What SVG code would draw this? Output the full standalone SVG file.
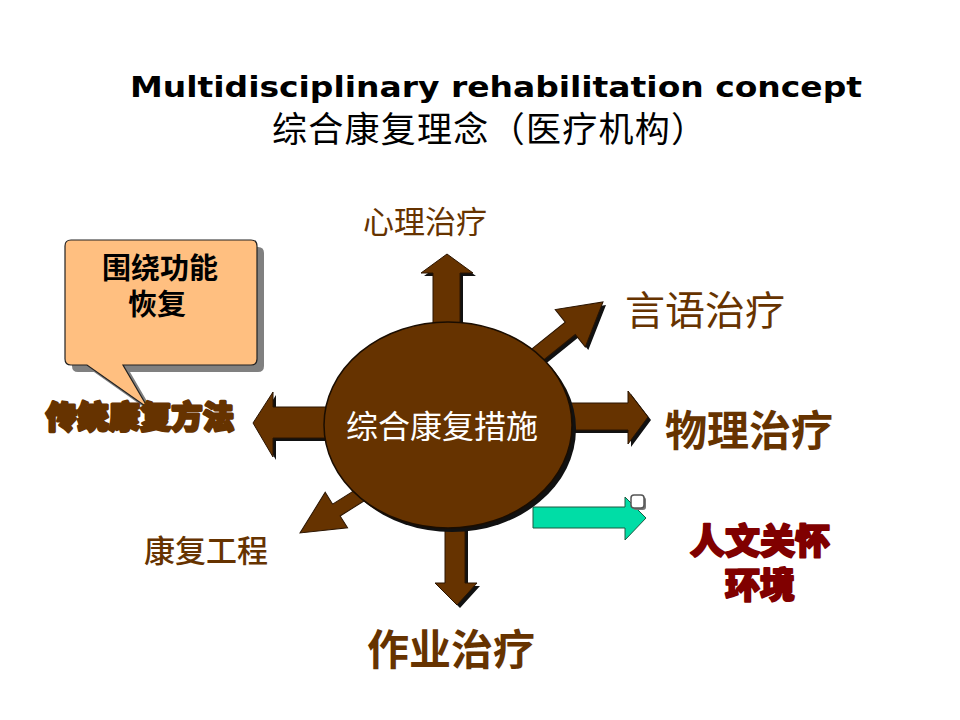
<svg xmlns="http://www.w3.org/2000/svg" width="960" height="720" viewBox="0 0 960 720">
<defs>
<style>
.cjk{font-family:"Noto Sans CJK SC","Noto Sans",sans-serif;}
.arr{fill:#663300;stroke:#2a1400;stroke-width:1;}
.shd{fill:#111;}
.lbl{fill:#663300;}
</style>
</defs>
<rect width="960" height="720" fill="#ffffff"/>

<g id="title">
<text x="496" y="97" text-anchor="middle" font-family="DejaVu Sans, Verdana, sans-serif" font-weight="bold" font-size="28" textLength="732" lengthAdjust="spacingAndGlyphs" fill="#000">Multidisciplinary rehabilitation concept</text>
<text x="272" y="142" class="cjk" font-size="35" textLength="434" lengthAdjust="spacing" fill="#000">综合康复理念（医疗机构）</text>
</g>

<g id="connectors">
<g id="arrow-up">
<polygon class="shd" transform="translate(3,3)" points="433,330 433,273 421,273 447,254 473,273 460,273 460,330"/>
<polygon class="arr" points="433,330 433,273 421,273 447,254 473,273 460,273 460,330"/>
</g>
<g id="arrow-down">
<polygon class="shd" transform="translate(3,3)" points="445,520 445,583 435,583 457,605 477,583 465,583 465,520"/>
<polygon class="arr" points="445,520 445,583 435,583 457,605 477,583 465,583 465,520"/>
</g>
<g id="arrow-right">
<polygon class="shd" transform="translate(3,3)" points="565,403 628,403 628,391 648,417 628,444 628,430 565,430"/>
<polygon class="arr" points="565,403 628,403 628,391 648,417 628,444 628,430 565,430"/>
</g>
<g id="arrow-left">
<polygon class="shd" transform="translate(3,3)" points="330,407 273,407 273,392 253,423 273,457 273,438 330,438"/>
<polygon class="arr" points="330,407 273,407 273,392 253,423 273,457 273,438 330,438"/>
</g>
<g id="arrow-upright">
<polygon class="shd" transform="translate(606,305) rotate(-38.8)" points="-100,-8 -42,-8 -42,-24 0,0 -42,24 -42,8 -100,8"/>
<polygon class="arr" transform="translate(603,302) rotate(-38.8)" points="-100,-8 -42,-8 -42,-24 0,0 -42,24 -42,8 -100,8"/>
</g>
<g id="arrow-downleft">
<polygon class="arr" transform="translate(300,533) rotate(147.8)" points="-90,-7 -43,-7 -43,-21 0,0 -43,21 -43,7 -90,7"/>
</g>
<g id="arrow-green">
<polygon fill="#00DDA6" stroke="#1a5a40" stroke-width="1" points="533,507 625,507 625,497 646,518 625,540 625,528 533,528"/>
<rect x="633" y="497" width="13" height="13" rx="3" fill="#777"/>
<rect x="631" y="495" width="13" height="13" rx="3" fill="#fff" stroke="#555" stroke-width="1.5"/>
</g>
</g>

<g id="center">
<ellipse cx="452" cy="429" rx="124" ry="103" fill="#111"/>
<ellipse cx="448" cy="425" rx="124" ry="103" fill="#663300" stroke="#1a0d00" stroke-width="1.5"/>
<text x="442" y="438" text-anchor="middle" class="cjk" font-size="32" fill="#ffffff">综合康复措施</text>
</g>

<g id="callout">
<path transform="translate(7,7)" d="M71,240 H251 Q257,240 257,246 V359 Q257,365 251,365 H123 L148,408 L87,365 H71 Q65,365 65,359 V246 Q65,240 71,240 Z" fill="#808080"/>
<path d="M71,240 H251 Q257,240 257,246 V359 Q257,365 251,365 H123 L148,408 L87,365 H71 Q65,365 65,359 V246 Q65,240 71,240 Z" fill="#FFBF80" stroke="#222" stroke-width="1.2"/>
<text text-anchor="middle" class="cjk" font-size="29" font-weight="bold" fill="#000"><tspan x="160" y="279">围绕功能</tspan><tspan x="157" y="315">恢复</tspan></text>
</g>

<g id="node-traditional">
<text x="140" y="428" text-anchor="middle" class="cjk" font-size="31" font-weight="900" textLength="188" lengthAdjust="spacing" fill="#663300" stroke="#663300" stroke-width="3" stroke-linejoin="round">传统康复方法</text>
</g>

<g id="node-psych">
<text x="425" y="233" text-anchor="middle" class="cjk lbl" font-size="31">心理治疗</text>
</g>
<g id="node-speech">
<text x="705" y="325" text-anchor="middle" font-family="Liberation Serif, Noto Sans CJK SC, serif" class="lbl" font-size="40">言语治疗</text>
</g>
<g id="node-physical">
<text x="749" y="446" text-anchor="middle" class="cjk lbl" font-size="42" font-weight="bold">物理治疗</text>
</g>
<g id="node-engineering">
<text x="206" y="562" text-anchor="middle" class="cjk lbl" font-size="31" font-weight="500">康复工程</text>
</g>
<g id="node-occupational">
<text x="451" y="665" text-anchor="middle" class="cjk lbl" font-size="42" font-weight="bold">作业治疗</text>
</g>
<g id="node-humane">
<text text-anchor="middle" class="cjk" font-size="35" font-weight="900" fill="#800000" stroke="#800000" stroke-width="2" stroke-linejoin="round"><tspan x="760" y="554">人文关怀</tspan><tspan x="760" y="598">环境</tspan></text>
</g>
</svg>
